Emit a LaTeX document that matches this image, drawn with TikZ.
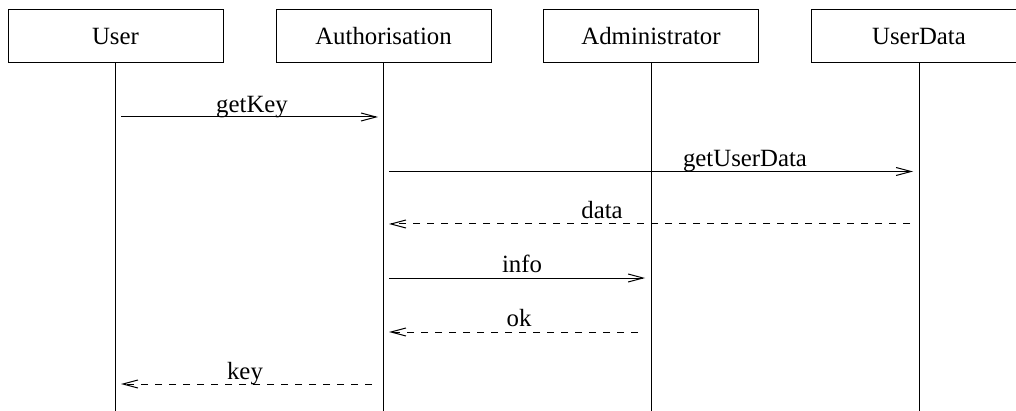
\documentclass[tikz,border=0pt]{standalone}
\usepackage{fontspec}
\setmainfont{Liberation Serif}
\usetikzlibrary{arrows.meta}
\begin{document}
\begin{tikzpicture}[x=0.5pt,y=-0.5pt,
  every node/.style={font=\fontsize{12.4}{15}\selectfont},
  actor/.style={draw,line width=0.5pt,minimum width=107.5pt,minimum height=26.5pt,inner sep=0pt},
  life/.style={line width=0.5pt},
  msg/.style={line width=0.5pt,-{Straight Barb[length=7.5pt,width=4pt,line width=0.5pt]}},
  reply/.style={msg,dash pattern=on 3.5pt off 3.5pt},
  lbl/.style={anchor=base,inner sep=0pt}]
\useasboundingbox (0,0) rectangle (1016,411);
\clip (0,0) rectangle (1016,411);
\node[actor] (user) at (115.5,36.5) {User};
\node[actor] (auth) at (383.5,36.5) {Authorisation};
\node[actor] (admin) at (651,36.5) {Administrator};
\node[actor] (udata) at (919,36.5) {UserData};
\coordinate (userend) at (115.5,420);
\coordinate (authend) at (383.5,420);
\coordinate (adminend) at (651,420);
\coordinate (udataend) at (919,420);
\draw[life] (user.south) -- (userend);
\draw[life] (auth.south) -- (authend);
\draw[life] (admin.south) -- (adminend);
\draw[life] (udata.south) -- (udataend);
% message end points
\coordinate (m1a) at (121,117);   \coordinate (m1b) at (378,117);
\coordinate (m2a) at (389,171.5); \coordinate (m2b) at (913,171.5);
\coordinate (m3a) at (910,224);   \coordinate (m3b) at (389,224);
\coordinate (m4a) at (389,278);   \coordinate (m4b) at (645,278);
\coordinate (m5a) at (638,332);   \coordinate (m5b) at (389,332);
\coordinate (m6a) at (372,384);   \coordinate (m6b) at (121,384);
\draw[msg] (m1a) -- (m1b);
\draw[msg] (m2a) -- (m2b);
\draw[reply] (m3a) -- (m3b);
\draw[msg] (m4a) -- (m4b);
\draw[reply] (m5a) -- (m5b);
\draw[reply] (m6a) -- (m6b);
\node[lbl] (l1) at (252,112.5) {getKey};
\node[lbl] (l2) at (745,166.5) {getUserData};
\node[lbl] (l3) at (602,219) {data};
\node[lbl] (l4) at (522,272.5) {info};
\node[lbl] (l5) at (519,326.5) {ok};
\node[lbl] (l6) at (245,379) {key};
\end{tikzpicture}
\end{document}
